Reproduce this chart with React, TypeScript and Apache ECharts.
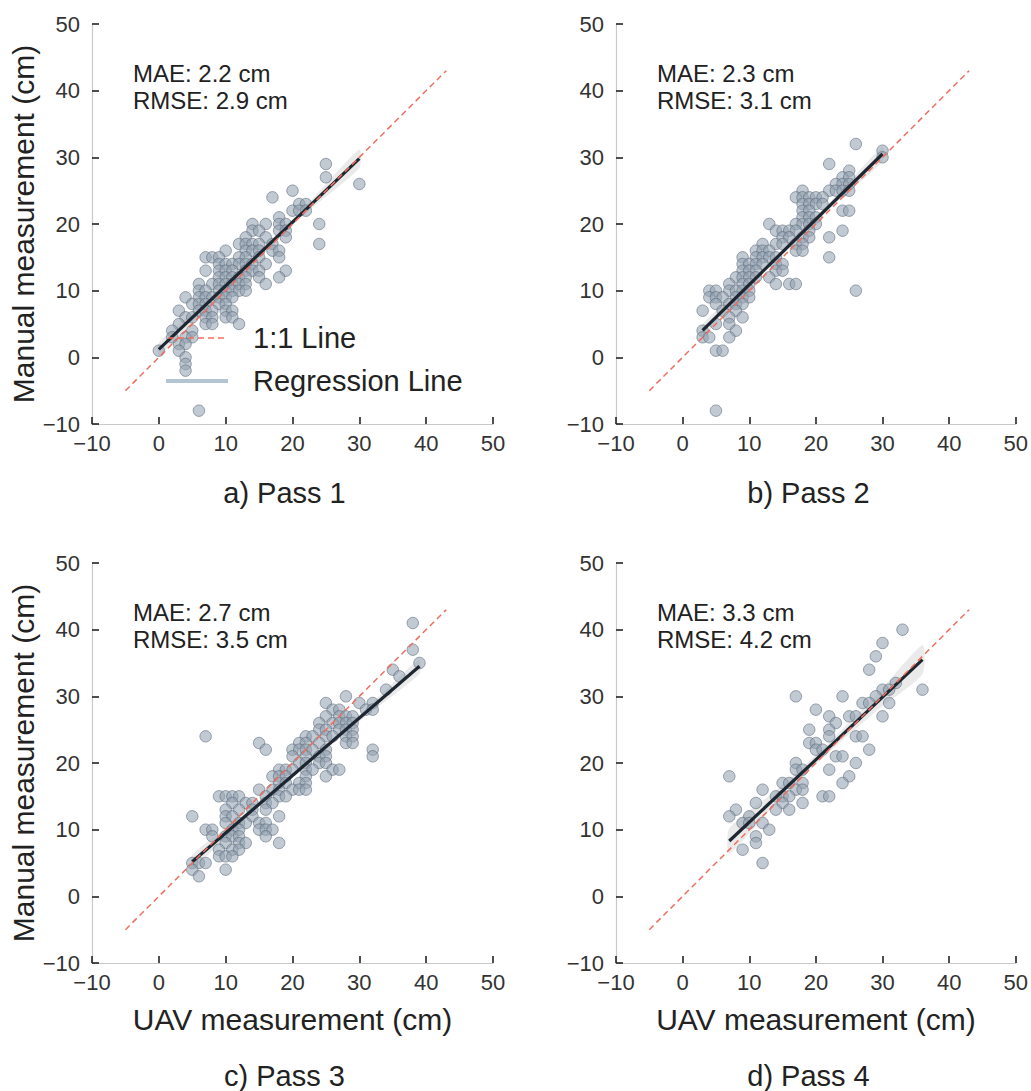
import React, { useEffect, useRef } from "react";
import * as echarts from "echarts";

// Shared axis range and tick step (cm)
const axisMin = -10;
const axisMax = 50;
const axisStep = 10;

const panelTitles = ["a) Pass 1", "b) Pass 2", "c) Pass 3", "d) Pass 4"];
const maeValues = ["2.2", "2.3", "2.7", "3.3"];
const rmseValues = ["2.9", "3.1", "3.5", "4.2"];

// 1:1 reference line extent (cm)
const identityRange = [-5, 43];

// UAV vs manual measurements, [uav, manual] in cm
const pass1Points = [
  [25, 29], [25, 27], [30, 26], [20, 25], [17, 24], [21, 23], [22, 23], [20, 22], [21, 22], [22, 22], [18, 21],
  [14, 20], [16, 20], [18, 20], [19, 20], [24, 20],
  [14, 19], [15, 19], [18, 19], [19, 19],
  [13, 18], [16, 18], [19, 18],
  [12, 17], [13, 17], [14, 17], [15, 17], [17, 17], [24, 17],
  [10, 16], [13, 16], [14, 16], [15, 16], [17, 16], [18, 16],
  [7, 15], [8, 15], [9, 15], [12, 15], [13, 15], [15, 15], [18, 15],
  [9, 14], [10, 14], [11, 14], [12, 14], [13, 14], [14, 14], [16, 14],
  [7, 13], [9, 13], [10, 13], [11, 13], [13, 13], [14, 13], [15, 13], [19, 13],
  [9, 12], [10, 12], [11, 12], [12, 12], [13, 12], [15, 12], [18, 12],
  [6, 11], [8, 11], [9, 11], [10, 11], [11, 11], [12, 11], [13, 11], [16, 11],
  [6, 10], [7, 10], [9, 10], [10, 10], [11, 10], [12, 10], [13, 10],
  [4, 9], [6, 9], [7, 9], [8, 9], [9, 9], [10, 9], [11, 9],
  [5, 8], [6, 8], [7, 8], [9, 8], [10, 8],
  [3, 7], [6, 7], [7, 7], [8, 7], [10, 7], [11, 7],
  [4, 6], [5, 6], [7, 6], [8, 6], [10, 6], [11, 6],
  [3, 5], [7, 5], [8, 5], [12, 5],
  [2, 4], [5, 4],
  [2, 3], [4, 3], [5, 3],
  [3, 2], [4, 2],
  [0, 1], [3, 1],
  [4, 0], [4, -1], [4, -2], [6, -8],
];

const pass2Points = [
  [26, 32], [30, 31], [30, 30], [22, 29], [25, 28], [24, 27], [25, 27], [23, 26], [24, 26], [25, 26],
  [18, 25], [22, 25], [23, 25], [24, 25], [25, 25],
  [17, 24], [18, 24], [19, 24], [20, 24], [21, 24],
  [18, 23], [19, 23], [20, 23], [21, 23],
  [18, 22], [19, 22], [24, 22], [25, 22],
  [18, 21], [19, 21], [20, 21],
  [13, 20], [17, 20], [18, 20], [19, 20], [20, 20],
  [14, 19], [15, 19], [16, 19], [17, 19], [19, 19], [24, 19],
  [15, 18], [16, 18], [18, 18], [19, 18], [22, 18],
  [12, 17], [14, 17], [15, 17], [17, 17], [18, 17],
  [11, 16], [12, 16], [13, 16], [17, 16], [18, 16],
  [9, 15], [11, 15], [12, 15], [13, 15], [14, 15], [22, 15],
  [9, 14], [10, 14], [11, 14], [12, 14], [14, 14], [15, 14],
  [9, 13], [10, 13], [11, 13], [14, 13], [15, 13],
  [8, 12], [9, 12], [10, 12], [11, 12], [13, 12],
  [7, 11], [9, 11], [10, 11], [14, 11], [16, 11], [17, 11],
  [4, 10], [5, 10], [7, 10], [8, 10], [9, 10], [10, 10], [26, 10],
  [4, 9], [5, 9], [6, 9], [8, 9], [9, 9], [10, 9],
  [5, 8], [7, 8], [8, 8], [9, 8],
  [3, 7], [6, 7], [8, 7],
  [7, 6], [9, 6],
  [5, 5], [7, 5],
  [3, 4], [8, 4],
  [3, 3], [4, 3], [7, 3],
  [5, 1], [6, 1],
  [5, -8],
];

const pass3Points = [
  [38, 41], [38, 37], [39, 35], [35, 34], [36, 33], [34, 31], [28, 30], [30, 29], [25, 29], [32, 29],
  [26, 28], [27, 28], [31, 28], [32, 28],
  [25, 27], [27, 27], [28, 27], [29, 27],
  [24, 26], [26, 26], [27, 26], [28, 26], [29, 26],
  [24, 25], [25, 25], [27, 25], [28, 25], [29, 25],
  [22, 24], [23, 24], [25, 24], [26, 24], [28, 24], [29, 24],
  [21, 23], [22, 23], [24, 23], [28, 23], [29, 23],
  [7, 24], [15, 23], [16, 22], [32, 22], [32, 21],
  [20, 22], [21, 22], [22, 22], [23, 22], [25, 22],
  [20, 21], [22, 21], [24, 21], [25, 21],
  [21, 20], [22, 20], [24, 20], [25, 20],
  [18, 19], [19, 19], [20, 19], [22, 19], [23, 19], [26, 19], [27, 19],
  [17, 18], [18, 18], [19, 18], [22, 18], [25, 18],
  [18, 17], [19, 17], [21, 17], [22, 17],
  [17, 16], [18, 16], [20, 16], [21, 16], [22, 16], [15, 16],
  [16, 15], [18, 15], [19, 15],
  [9, 15], [10, 15], [11, 15], [12, 15],
  [11, 14], [13, 14], [14, 14], [16, 14], [17, 14],
  [10, 13], [12, 13], [14, 13], [16, 13],
  [5, 12], [10, 12], [11, 12], [14, 12], [18, 12],
  [10, 11], [12, 11], [13, 11], [15, 11], [16, 11],
  [7, 10], [8, 10], [11, 10], [12, 10], [15, 10], [16, 10], [17, 10],
  [8, 9], [10, 9], [11, 9], [12, 9], [16, 9],
  [10, 8], [12, 8], [13, 8], [18, 8],
  [9, 7], [11, 7], [12, 7],
  [9, 6], [10, 6], [11, 6],
  [5, 5], [6, 5], [7, 5],
  [5, 4], [10, 4], [6, 3],
];

const pass4Points = [
  [33, 40], [30, 38], [29, 36], [28, 34], [36, 31], [32, 32], [30, 31], [31, 31],
  [17, 30], [24, 30], [29, 30], [27, 29], [28, 29], [31, 29], [20, 28],
  [22, 27], [25, 27], [26, 27], [30, 27], [23, 26], [19, 25], [22, 25],
  [22, 24], [26, 24], [27, 24], [19, 23], [20, 23], [20, 22], [21, 22], [28, 22],
  [23, 21], [24, 21], [17, 20], [26, 20], [17, 19], [18, 19], [22, 19], [25, 18], [7, 18],
  [15, 17], [16, 17], [18, 17], [24, 17], [12, 16], [17, 16], [18, 16],
  [11, 14], [14, 15], [15, 15], [16, 15], [21, 15], [22, 15], [15, 14], [18, 14],
  [8, 13], [7, 12], [10, 12], [14, 13], [16, 13], [9, 11], [10, 11], [12, 11],
  [13, 10], [11, 9], [11, 8], [9, 7], [12, 5],
];

// Fitted regression segments, [uav, manual] endpoints
const pass1Fit = [[0, 1.2], [30, 29.8]];
const pass2Fit = [[3, 4.05], [30, 30.5]];
const pass3Fit = [[5, 5.2], [39, 34.5]];
const pass4Fit = [[7, 8.3], [36, 35.5]];

// Confidence band around each fit, [uav, lower, upper]
const pass1Band = [[0, 0.2, 2.2], [7.5, 7.85, 8.85], [15, 15.15, 15.85], [22.5, 22.05, 23.25], [30, 28.4, 31.2]];
const pass2Band = [[3, 3.1, 5.0], [10, 10.45, 11.35], [16.5, 16.98, 17.58], [23, 23.15, 24.15], [30, 29.4, 31.6]];
const pass3Band = [[5, 4.2, 6.2], [13, 11.6, 12.6], [22, 19.5, 20.2], [31, 27.05, 28.15], [39, 33.4, 35.6]];
const pass4Band = [[7, 6.4, 10.2], [14, 13.87, 15.87], [21.5, 21.2, 22.6], [29, 27.74, 30.14], [36, 33.3, 37.7]];

const allPoints = [pass1Points, pass2Points, pass3Points, pass4Points];
const allFits = [pass1Fit, pass2Fit, pass3Fit, pass4Fit];
const allBands = [pass1Band, pass2Band, pass3Band, pass4Band];

const FONT = "'Liberation Sans', Arial, Helvetica, sans-serif";
const INK = "#222222";
const IDENTITY_COLOR = "#ef6f5e";
const FIT_COLOR = "#1d2631";
const LEGEND_FIT_COLOR = "#b3c4d3";

// Plot rectangles in pixels: left, top of each panel
const panelOrigins = [
  [92, 24],
  [616, 24],
  [92, 563],
  [616, 563],
];
const PLOT_W = 401;
const PLOT_H = 400;
// Caption centre line (px) per panel
const captionY = [493, 493, 1076, 1076];

const tickFormatter = (v: number) => (v < 0 ? "\u2212" + Math.abs(v) : String(v));

function buildOption() {
  const grid: any[] = [];
  const xAxis: any[] = [];
  const yAxis: any[] = [];
  const series: any[] = [];
  const graphic: any[] = [];

  panelOrigins.forEach(([left, top], i) => {
    grid.push({ left, top, width: PLOT_W, height: PLOT_H, containLabel: false });

    const common = {
      type: "value",
      gridIndex: i,
      min: axisMin,
      max: axisMax,
      interval: axisStep,
      splitLine: { show: false },
      axisLine: { show: true, onZero: false, lineStyle: { color: "#c9c9c9", width: 1.2 } },
      axisTick: { show: true, inside: true, length: 7, lineStyle: { color: INK, width: 1.6 } },
      axisLabel: { color: "#333", fontSize: 22, fontFamily: FONT, formatter: tickFormatter },
    };

    xAxis.push({
      ...common,
      axisLabel: { ...common.axisLabel, margin: 8 },
      name: i >= 2 ? "UAV measurement (cm)" : "",
      nameLocation: "middle",
      nameGap: 41,
      nameTextStyle: { color: INK, fontSize: 30, fontFamily: FONT },
    });
    yAxis.push({
      ...common,
      axisLabel: { ...common.axisLabel, margin: 12 },
      name: i % 2 === 0 ? "Manual measurement (cm)" : "",
      nameLocation: "middle",
      nameGap: 53,
      nameTextStyle: { color: INK, fontSize: 30, fontFamily: FONT },
    });

    const band = allBands[i];
    series.push({
      type: "custom",
      xAxisIndex: i,
      yAxisIndex: i,
      silent: true,
      z: 1,
      data: band,
      encode: { x: 0, y: 1 },
      renderItem: (params: any, api: any) => {
        if (params.dataIndex !== 0) return null;
        const upper = band.map((r) => api.coord([r[0], r[2]]));
        const lower = band
          .slice()
          .reverse()
          .map((r) => api.coord([r[0], r[1]]));
        return {
          type: "polygon",
          shape: { points: upper.concat(lower), smooth: 0.2 },
          style: { fill: "rgba(190,190,190,0.32)" },
        };
      },
    });

    series.push({
      type: "scatter",
      xAxisIndex: i,
      yAxisIndex: i,
      z: 2,
      symbol: "circle",
      symbolSize: 11.5,
      data: allPoints[i],
      itemStyle: {
        color: "rgb(148,162,178)",
        opacity: 0.58,
        borderColor: "#4e5d6e",
        borderWidth: 0.9,
      },
    });

    series.push({
      type: "line",
      xAxisIndex: i,
      yAxisIndex: i,
      z: 3,
      symbol: "none",
      data: allFits[i],
      lineStyle: { color: FIT_COLOR, width: 3.2 },
    });

    series.push({
      type: "line",
      xAxisIndex: i,
      yAxisIndex: i,
      z: 4,
      symbol: "none",
      data: identityRange.map((v) => [v, v]),
      lineStyle: { color: IDENTITY_COLOR, width: 1.5, type: [6, 4] },
    });

    // Error statistics in the upper-left of each panel
    const tx = left + 41;
    const ty = top + 49;
    graphic.push({
      type: "text",
      x: tx,
      y: ty,
      z: 10,
      style: { text: `MAE: ${maeValues[i]} cm`, fill: INK, font: `24px ${FONT}`, align: "left", verticalAlign: "middle" },
    });
    graphic.push({
      type: "text",
      x: tx,
      y: ty + 27,
      z: 10,
      style: { text: `RMSE: ${rmseValues[i]} cm`, fill: INK, font: `24px ${FONT}`, align: "left", verticalAlign: "middle" },
    });

    // Panel caption
    graphic.push({
      type: "text",
      x: left + PLOT_W / 2 - 8,
      y: captionY[i],
      z: 10,
      style: { text: panelTitles[i], fill: INK, font: `29px ${FONT}`, align: "center", verticalAlign: "middle" },
    });
  });

  // Legend drawn inside the first panel
  graphic.push(
    {
      type: "line",
      z: 20,
      shape: { x1: 168, y1: 338, x2: 227, y2: 338 },
      style: { stroke: IDENTITY_COLOR, lineWidth: 1.5, lineDash: [6, 4] },
    },
    {
      type: "text",
      x: 253,
      y: 338,
      z: 20,
      style: { text: "1:1 Line", fill: INK, font: `29px ${FONT}`, align: "left", verticalAlign: "middle" },
    },
    {
      type: "line",
      z: 20,
      shape: { x1: 166, y1: 381, x2: 228, y2: 381 },
      style: { stroke: LEGEND_FIT_COLOR, lineWidth: 4 },
    },
    {
      type: "text",
      x: 253,
      y: 381,
      z: 20,
      style: { text: "Regression Line", fill: INK, font: `29px ${FONT}`, align: "left", verticalAlign: "middle" },
    }
  );

  return {
    animation: false,
    backgroundColor: "#ffffff",
    textStyle: { fontFamily: FONT },
    grid,
    xAxis,
    yAxis,
    series,
    graphic,
  };
}

export default function App() {
  const ref = useRef<HTMLDivElement>(null);

  useEffect(() => {
    if (!ref.current) return;
    const chart = echarts.init(ref.current, undefined, { renderer: "svg" });
    chart.setOption(buildOption());
    return () => chart.dispose();
  }, []);

  return (
    <div
      ref={ref}
      style={{ position: "fixed", left: 0, top: 0, width: 1031, height: 1091, background: "#fff" }}
    />
  );
}
